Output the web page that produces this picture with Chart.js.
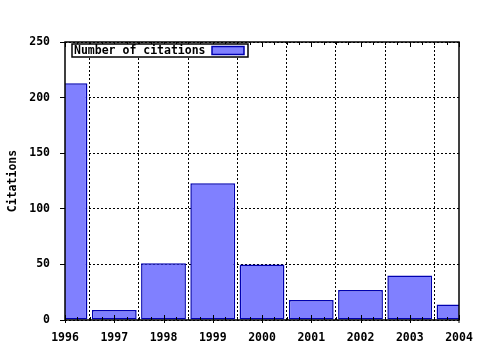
<!DOCTYPE html>
<html>
<head>
<meta charset="utf-8">
<script src="https://cdn.jsdelivr.net/npm/chart.js@4/dist/chart.umd.min.js"></script>
<style>
  html, body { margin: 0; padding: 0; background: #fff; }
  #wrap { width: 480px; height: 350px; }
</style>
</head>
<body>
<div id="wrap"><canvas id="chart" width="480" height="350"></canvas></div>
<script>
var years = ["1996", "1997", "1998", "1999", "2000", "2001", "2002", "2003", "2004"];
var citations = [213, 9, 51, 123, 50, 18, 27, 40, 14];
var yTicks = [0, 50, 100, 150, 200, 250];
var seriesName = "Number of citations";

var monoFont = { family: "'DejaVu Sans Mono', monospace", size: 11.5, weight: "bold" };

// frame, minor ticks and the in-plot legend box
var framePlugin = {
  id: "frame",
  afterDatasetsDraw: function (c) {
    var ctx = c.ctx;
    var a = c.chartArea;
    ctx.save();
    ctx.strokeStyle = "#000";
    ctx.lineWidth = 1.5;
    ctx.setLineDash([]);
    ctx.strokeRect(a.left, a.top, a.right - a.left, a.bottom - a.top);

    ctx.lineWidth = 1;
    ctx.beginPath();
    for (var i = 0; i < years.length - 1; i++) {
      for (var q = 0; q <= 4; q++) {
        var px = Math.round(a.left + (i + q / 4) * (a.right - a.left) / (years.length - 1)) + 0.5;
        var len = q == 0 || q == 4 ? 5 : 3;
        ctx.moveTo(px, a.top);
        ctx.lineTo(px, a.top + len);
        ctx.moveTo(px, a.bottom);
        ctx.lineTo(px, a.bottom - len);
      }
      var mx = Math.round(a.left + i * (a.right - a.left) / (years.length - 1)) + 0.5;
      ctx.moveTo(mx, a.bottom);
      ctx.lineTo(mx, a.bottom + 3);
    }
    ctx.moveTo(a.right, a.bottom);
    ctx.lineTo(a.right, a.bottom + 3);
    ctx.stroke();

    // legend
    var lx = 72, ly = 44, lw = 176, lh = 13;
    ctx.fillStyle = "#fff";
    ctx.fillRect(lx, ly, lw, lh);
    ctx.lineWidth = 1.5;
    ctx.strokeRect(lx, ly, lw, lh);
    ctx.fillStyle = "#000";
    ctx.font = "bold 11.5px 'DejaVu Sans Mono', monospace";
    ctx.textBaseline = "middle";
    ctx.fillText(c.data.datasets[0].label, lx + 2, ly + lh / 2 + 1);
    ctx.fillStyle = "#8080ff";
    ctx.fillRect(212, 46.5, 32, 8);
    ctx.strokeStyle = "#0000b0";
    ctx.lineWidth = 1.5;
    ctx.strokeRect(212, 46.5, 32, 8);
    ctx.restore();
  }
};

new Chart(document.getElementById("chart"), {
  type: "bar",
  data: {
    labels: years,
    datasets: [
      {
        label: seriesName,
        data: citations,
        backgroundColor: "#8080ff",
        borderColor: "#0000b0",
        borderWidth: 1.5,
        borderSkipped: false,
        categoryPercentage: 1,
        barPercentage: 0.91,
        clip: 0
      }
    ]
  },
  options: {
    responsive: false,
    animation: false,
    devicePixelRatio: 1,
    layout: { padding: { left: 0, right: 21, top: 42, bottom: 0 } },
    plugins: { legend: { display: false }, tooltip: { enabled: false } },
    scales: {
      x: {
        type: "category",
        offset: false,
        afterFit: function (s) {
          s.height = 30;
          s.paddingLeft = 0;
          s.paddingRight = 0;
        },
        grid: {
          color: "#000",
          lineWidth: 1,
          drawTicks: false
        },
        border: { display: false, dash: [2, 2] },
        ticks: { color: "#000", font: monoFont, padding: 11, maxRotation: 0, autoSkip: false }
      },
      y: {
        min: 0,
        max: 250,
        afterFit: function (s) {
          s.width = 65;
          s.paddingTop = 0;
          s.paddingBottom = 0;
        },
        afterBuildTicks: function (s) {
          s.ticks = yTicks.map(function (v) { return { value: v }; });
        },
        grid: {
          color: "#000",
          lineWidth: 1,
          tickLength: 5,
          tickBorderDash: [],
          tickColor: "#000"
        },
        border: { display: false, dash: [2, 2] },
        ticks: { color: "#000", font: monoFont, padding: 10 },
        title: {
          display: true,
          text: "Citations",
          color: "#000",
          font: monoFont,
          padding: { top: 6, bottom: 0 }
        }
      }
    }
  },
  plugins: [framePlugin]
});
</script>
</body>
</html>
